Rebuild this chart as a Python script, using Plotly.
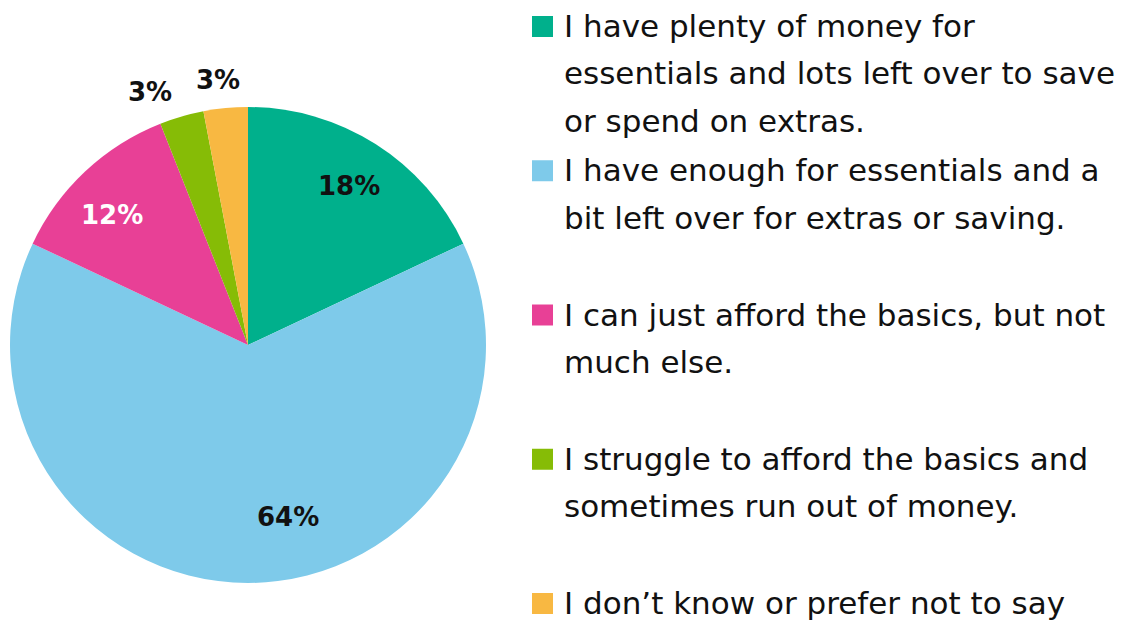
import math
import plotly.graph_objects as go

# Survey answers: how well respondents are managing financially
categories = [
    "I have plenty of money for essentials and lots left over to save or spend on extras.",
    "I have enough for essentials and a bit left over for extras or saving.",
    "I can just afford the basics, but not much else.",
    "I struggle to afford the basics and sometimes run out of money.",
    "I don\u2019t know or prefer not to say",
]
shares = [18, 64, 12, 3, 3]

# Wrapped legend text, one list of lines per answer
legend_lines = [
    ["I have plenty of money for", "essentials and lots left over to save", "or spend on extras."],
    ["I have enough for essentials and a", "bit left over for extras or saving."],
    ["I can just afford the basics, but not", "much else."],
    ["I struggle to afford the basics and", "sometimes run out of money."],
    ["I don\u2019t know or prefer not to say"],
]

colors = ["#00B08C", "#7ECAEA", "#E84096", "#86BC06", "#F8B842"]
label_colors = ["#111111", "#111111", "#FFFFFF", "#111111", "#111111"]

W, H = 1127, 621
FONT = "DejaVu Sans, sans-serif"
LABEL_FONT = "DejaVu Sans, sans-serif"

# Pie placement in pixels (centre and radius)
CX, CY, R = 248, 345, 238

fig = go.Figure(
    go.Pie(
        labels=categories,
        values=shares,
        sort=False,
        direction="clockwise",
        rotation=0,
        marker=dict(colors=colors, line=dict(width=0)),
        textinfo="none",
        domain=dict(x=[(CX - R) / W, (CX + R) / W], y=[(H - CY - R) / H, (H - CY + R) / H]),
        hoverinfo="label+percent",
        showlegend=False,
    )
)

# Percentage labels: placed along each slice's bisector (angle nudge in
# degrees, distance as a fraction of the radius)
label_place = [(0, 0.79), (-13, 0.74), (-3, 0.79), (-5, 1.14), (-1, 1.12)]
annotations = []
total = sum(shares)
start = 0.0
for v, col, (nudge, frac) in zip(shares, label_colors, label_place):
    span = 360.0 * v / total
    mid = math.radians(start + span / 2 + nudge)
    start += span
    px = CX + frac * R * math.sin(mid)
    py = CY - frac * R * math.cos(mid)
    annotations.append(dict(
        text=f"<b>{v}%</b>", xref="paper", yref="paper",
        x=px / W, y=1 - py / H, xanchor="center", yanchor="middle",
        showarrow=False,
        font=dict(family=LABEL_FONT, size=26, color=col),
    ))

# Hand-built legend: coloured square plus wrapped lines with generous spacing
ITEM_STEP = 144.25
LINE_STEP = 47.5
FIRST_BASE = 37
SQ = 21
shapes = []
for i, (lines, col) in enumerate(zip(legend_lines, colors)):
    base = FIRST_BASE + ITEM_STEP * i
    shapes.append(dict(
        type="rect", xref="paper", yref="paper",
        x0=532 / W, x1=(532 + SQ) / W,
        y0=1 - base / H, y1=1 - (base - SQ) / H,
        fillcolor=col, line=dict(width=0),
    ))
    for j, line in enumerate(lines):
        b = base + LINE_STEP * j
        annotations.append(dict(
            text=line, xref="paper", yref="paper",
            x=563 / W, y=1 - (b - 11) / H,
            xanchor="left", yanchor="middle", showarrow=False,
            borderpad=0,
            font=dict(family=FONT, size=31, color="#111111"),
        ))

fig.update_layout(
    width=W, height=H,
    margin=dict(l=0, r=0, t=0, b=0),
    paper_bgcolor="white", plot_bgcolor="white",
    shapes=shapes, annotations=annotations,
)

fig.write_html("out.html")
